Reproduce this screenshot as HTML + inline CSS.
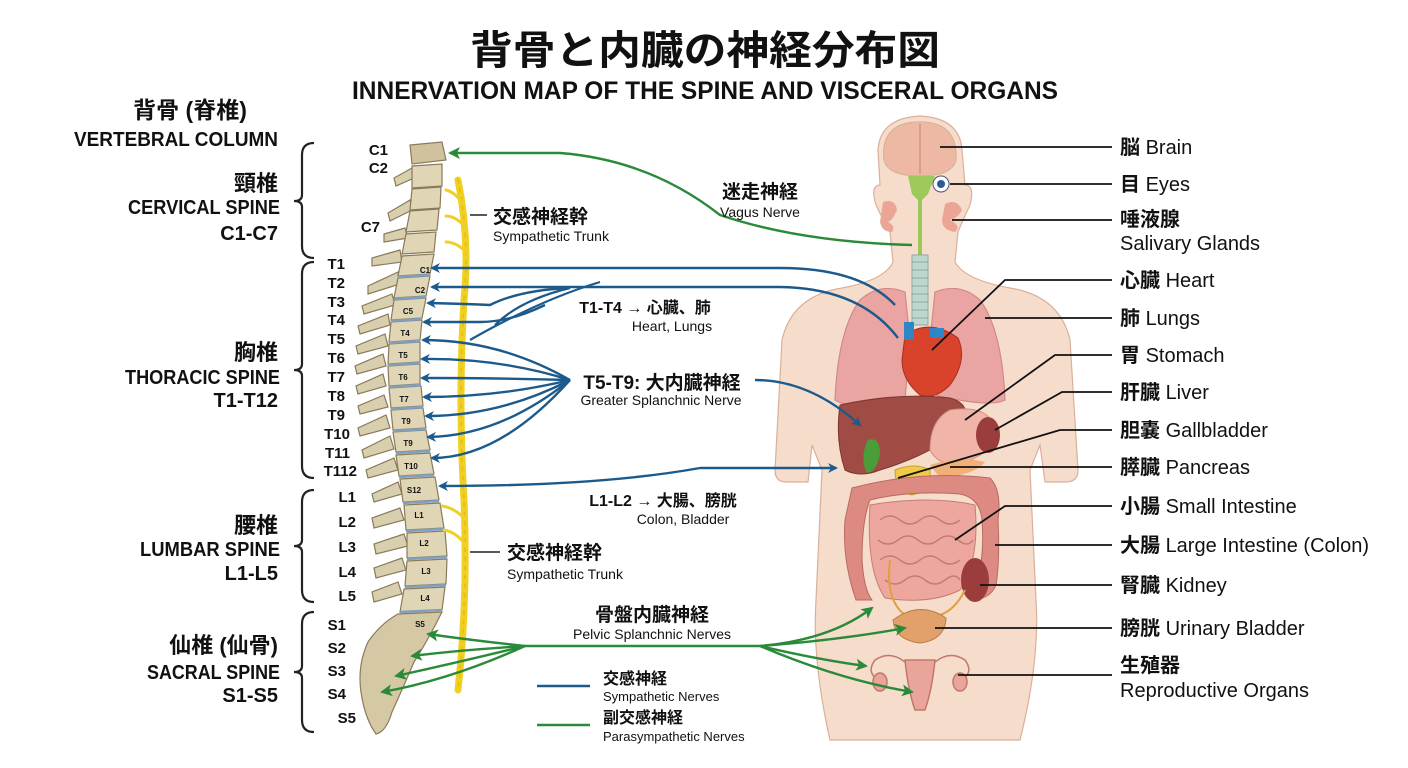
<!DOCTYPE html>
<html><head><meta charset="utf-8"><style>
html,body{margin:0;padding:0;background:#fff;}
svg{display:block;}
text{font-family:"Liberation Sans","Noto Sans CJK JP",sans-serif;font-weight:bold;fill:#111;}
.s{font-weight:normal;}
</style></head><body>
<svg width="1408" height="768" viewBox="0 0 1408 768" xmlns="http://www.w3.org/2000/svg">
<defs>
<marker id="ab" markerWidth="10" markerHeight="10" refX="8" refY="5" orient="auto" markerUnits="userSpaceOnUse"><path d="M0,0 L10,5 L0,10 L3,5 Z" fill="#1d5a8c"/></marker>
<marker id="ag" markerWidth="12" markerHeight="12" refX="10" refY="6" orient="auto" markerUnits="userSpaceOnUse"><path d="M0,0 L12,6 L0,12 L3,6 Z" fill="#2a8a3a"/></marker>
</defs>

<text x="705" y="64" font-size="40" text-anchor="middle" textLength="470" lengthAdjust="spacingAndGlyphs">背骨と内臓の神経分布図</text>
<text x="705" y="99" font-size="25" text-anchor="middle" textLength="706" lengthAdjust="spacingAndGlyphs">INNERVATION MAP OF THE SPINE AND VISCERAL ORGANS</text>

<text x="190" y="118" font-size="23" text-anchor="middle">背骨 (脊椎)</text>
<text x="176" y="146" font-size="20" text-anchor="middle" textLength="204" lengthAdjust="spacingAndGlyphs">VERTEBRAL COLUMN</text>
<g font-size="20" text-anchor="end">
<text x="278" y="191" font-size="22">頸椎</text>
<text x="280" y="214" textLength="152" lengthAdjust="spacingAndGlyphs">CERVICAL SPINE</text>
<text x="278" y="240">C1-C7</text>
<text x="278" y="360" font-size="22">胸椎</text>
<text x="280" y="384" textLength="155" lengthAdjust="spacingAndGlyphs">THORACIC SPINE</text>
<text x="278" y="407">T1-T12</text>
<text x="278" y="533" font-size="22">腰椎</text>
<text x="280" y="556" textLength="140" lengthAdjust="spacingAndGlyphs">LUMBAR SPINE</text>
<text x="278" y="580">L1-L5</text>
<text x="278" y="653" font-size="22">仙椎 (仙骨)</text>
<text x="280" y="679" textLength="133" lengthAdjust="spacingAndGlyphs">SACRAL SPINE</text>
<text x="278" y="702">S1-S5</text>
</g>
<g fill="none" stroke="#222" stroke-width="2.2">
<path d="M314,143 Q302,143 302,155 L302,195 Q302,201 294,201 Q302,201 302,207 L302,246 Q302,258 314,258"/>
<path d="M314,262 Q302,262 302,274 L302,364 Q302,370 294,370 Q302,370 302,376 L302,466 Q302,478 314,478"/>
<path d="M314,490 Q302,490 302,502 L302,540 Q302,546 294,546 Q302,546 302,552 L302,590 Q302,602 314,602"/>
<path d="M314,612 Q302,612 302,624 L302,666 Q302,672 294,672 Q302,672 302,678 L302,720 Q302,732 314,732"/>
</g>
<g font-size="15" text-anchor="end">
<text x="388" y="155">C1</text><text x="388" y="173">C2</text><text x="380" y="232">C7</text>
<text x="345" y="269">T1</text><text x="345" y="288">T2</text><text x="345" y="307">T3</text><text x="345" y="325">T4</text>
<text x="345" y="344">T5</text><text x="345" y="363">T6</text><text x="345" y="382">T7</text><text x="345" y="401">T8</text>
<text x="345" y="420">T9</text><text x="350" y="439">T10</text><text x="350" y="458">T11</text><text x="357" y="476">T112</text>
<text x="356" y="502">L1</text><text x="356" y="527">L2</text><text x="356" y="552">L3</text><text x="356" y="577">L4</text><text x="356" y="601">L5</text>
<text x="346" y="630">S1</text><text x="346" y="653">S2</text><text x="346" y="676">S3</text><text x="346" y="699">S4</text><text x="356" y="723">S5</text>
</g>

<g stroke="#8a7a5a" stroke-width="1.2">
<g fill="#d8cfae">
<path d="M412,168 L394,178 L396,186 L414,178 Z"/>
<path d="M410,200 L388,213 L390,221 L412,210 Z"/>
<path d="M405,228 L384,234 L384,242 L408,238 Z"/>
<path d="M400,250 L372,258 L372,266 L402,262 Z"/>
<path d="M398,272 L368,286 L368,294 L400,284 Z"/>
<path d="M392,294 L362,306 L364,314 L395,305 Z"/>
<path d="M388,314 L358,326 L360,334 L390,325 Z"/>
<path d="M385,334 L356,346 L358,354 L388,346 Z"/>
<path d="M383,354 L355,366 L357,374 L386,366 Z"/>
<path d="M383,374 L356,386 L358,394 L386,386 Z"/>
<path d="M384,395 L358,406 L360,414 L388,407 Z"/>
<path d="M386,415 L358,428 L360,436 L390,428 Z"/>
<path d="M390,436 L362,450 L364,458 L394,449 Z"/>
<path d="M394,458 L366,470 L368,478 L398,470 Z"/>
<path d="M398,482 L372,494 L374,502 L402,494 Z"/>
<path d="M400,508 L372,518 L374,528 L404,520 Z"/>
<path d="M404,534 L374,544 L376,554 L408,546 Z"/>
<path d="M402,558 L374,568 L376,578 L406,570 Z"/>
<path d="M398,582 L372,592 L374,602 L402,594 Z"/>
</g>
<g fill="#e0d6b6">
<path d="M410,145 L442,142 L446,160 L412,164 Z" fill="#cfc29c"/>
<path d="M412,166 L442,164 L442,186 L412,188 Z"/>
<path d="M412,189 L441,187 L440,208 L410,210 Z"/>
<path d="M410,211 L439,209 L437,230 L406,232 Z"/>
<path d="M406,234 L436,232 L434,252 L402,254 Z"/>
<path d="M402,256 L434,254 L430,274 L398,276 Z"/>
<path d="M398,278 L430,276 L426,296 L394,298 Z"/>
<path d="M394,300 L426,298 L422,318 L391,320 Z"/>
<path d="M391,322 L422,320 L420,340 L389,342 Z"/>
<path d="M389,344 L420,342 L420,362 L388,364 Z"/>
<path d="M388,366 L420,364 L420,384 L389,386 Z"/>
<path d="M389,388 L421,386 L423,406 L391,408 Z"/>
<path d="M391,410 L423,408 L426,428 L393,430 Z"/>
<path d="M393,432 L426,430 L430,450 L396,452 Z"/>
<path d="M396,455 L430,453 L434,474 L399,476 Z"/>
<path d="M400,479 L435,477 L439,500 L403,502 Z"/>
<path d="M404,505 L440,503 L444,528 L406,530 Z"/>
<path d="M407,533 L445,531 L447,556 L407,558 Z"/>
<path d="M407,561 L447,559 L446,584 L405,586 Z"/>
<path d="M404,589 L445,587 L442,610 L400,612 Z"/>
</g>
<g stroke="#7fa0bf" stroke-width="2.5" fill="none">
<path d="M398,277 L430,275"/><path d="M394,299 L426,297"/><path d="M391,321 L422,319"/><path d="M389,343 L420,341"/>
<path d="M388,365 L420,363"/><path d="M389,387 L421,385"/><path d="M391,409 L423,407"/><path d="M393,431 L426,429"/>
<path d="M396,453 L430,451"/><path d="M399,477 L434,475"/><path d="M403,503 L439,501"/><path d="M406,531 L444,529"/>
<path d="M407,559 L447,557"/><path d="M405,587 L446,585"/><path d="M400,612 L442,610"/>
</g>
<path d="M398,614 L442,612 Q428,640 414,662 Q402,690 392,712 Q386,732 376,734 Q366,720 362,698 Q356,668 368,642 Q380,624 398,614 Z" fill="#d5c9a5"/>
</g>
<g font-size="8" class="s" fill="#333" text-anchor="middle">
<text x="425" y="273">C1</text><text x="420" y="293">C2</text><text x="408" y="314">C5</text><text x="405" y="336">T4</text>
<text x="403" y="358">T5</text><text x="403" y="380">T6</text><text x="404" y="402">T7</text><text x="406" y="424">T9</text>
<text x="408" y="446">T9</text><text x="411" y="469">T10</text><text x="414" y="493">S12</text><text x="419" y="518">L1</text>
<text x="424" y="546">L2</text><text x="426" y="574">L3</text><text x="425" y="601">L4</text><text x="420" y="627">S5</text>
</g>

<g fill="none" stroke="#f1d024" stroke-linecap="round">
<path d="M458,180 Q470,240 464,300 Q458,400 464,500 Q468,600 458,690" stroke-width="7"/>
<path d="M458,180 Q470,240 464,300 Q458,400 464,500 Q468,600 458,690" stroke="#e8c010" stroke-width="2" stroke-dasharray="3 6"/>
<path d="M464,205 Q455,192 446,190 M466,228 Q456,216 446,216 M466,252 Q456,242 446,242 M466,520 Q455,508 442,506 M466,545 Q456,532 444,530" stroke-width="3"/>
</g>
<line x1="470" y1="215" x2="487" y2="215" stroke="#222" stroke-width="1.5"/>
<line x1="470" y1="552" x2="500" y2="552" stroke="#222" stroke-width="1.5"/>

<g stroke="#d9b09a" stroke-width="1.2">
<path d="M878,150 Q880,118 920,116 Q960,118 962,150 L965,185 Q975,185 970,205 Q962,222 958,232 L955,262 Q965,280 1010,288 Q1060,296 1070,340 L1078,470 Q1078,482 1066,482 L1045,482 L1040,445 L1030,470 L1036,600 Q1040,660 1020,740 L830,740 Q812,660 816,600 L822,470 L812,445 L808,482 L786,482 Q775,482 775,470 L782,340 Q792,296 842,288 Q885,280 893,262 L890,232 Q884,222 876,205 Q870,185 880,185 Z" fill="#f6dccb"/>
<path d="M884,160 Q880,122 920,122 Q958,122 956,160 Q952,176 920,176 Q888,176 884,160 Z" fill="#eeb9a4"/>
<path d="M920,124 L920,174" stroke="#c98d78"/>
</g>
<path d="M908,176 L935,176 L928,194 L922,200 L922,260 L918,260 L918,200 L912,194 Z" fill="#9dc95a"/>
<circle cx="941" cy="184" r="8" fill="#fff" stroke="#557" stroke-width="1"/>
<circle cx="941" cy="184" r="4" fill="#2f5a9a"/>
<g fill="#eba597">
<path d="M883,202 Q895,198 897,210 Q893,220 888,222 Q896,226 892,232 Q882,232 880,222 Z"/>
<path d="M945,204 Q957,198 962,210 Q958,218 950,220 Q962,226 955,232 Q942,230 942,220 Z"/>
</g>
<rect x="912" y="255" width="16" height="70" fill="#bfd6cc" stroke="#8aa" stroke-width="1"/>
<g stroke="#8aa" stroke-width="1"><path d="M912,262 h16 M912,270 h16 M912,278 h16 M912,286 h16 M912,294 h16 M912,302 h16 M912,310 h16 M912,318 h16"/></g>
<g fill="#eaa5a2" stroke="#d08a88" stroke-width="1.2">
<path d="M905,292 Q880,282 860,300 Q838,330 835,400 Q850,410 905,400 L910,340 Z"/>
<path d="M935,292 Q960,282 980,300 Q1002,330 1005,400 Q990,408 935,395 L930,340 Z"/>
</g>
<path d="M905,335 Q930,318 958,338 Q968,360 950,385 Q935,400 920,395 Q902,380 902,360 Z" fill="#d9432c" stroke="#a5301e"/>
<rect x="904" y="322" width="10" height="18" fill="#2f86c6"/>
<rect x="930" y="328" width="14" height="10" fill="#2f86c6"/>
<path d="M840,405 Q900,392 950,398 Q975,405 960,430 Q930,455 880,470 Q860,478 845,470 Q835,440 840,405 Z" fill="#a04c45" stroke="#7d3530"/>
<path d="M868,440 Q880,436 880,455 Q875,475 866,472 Q860,455 868,440 Z" fill="#4a9e3a"/>
<path d="M950,410 Q990,404 995,430 Q995,450 970,460 Q940,470 930,450 Q930,420 950,410 Z" fill="#f0b5a8" stroke="#d48f84"/>
<ellipse cx="988" cy="435" rx="12" ry="18" fill="#9c3d3d"/>
<path d="M930,465 Q960,455 985,462 Q975,475 940,478 Z" fill="#f2b078"/>
<path d="M895,470 Q915,462 930,470 Q932,490 912,495 Q895,492 895,470 Z" fill="#f1cb48" stroke="#c8a030"/>
<path d="M852,488 Q920,470 990,478 Q1002,490 998,520 Q1000,560 996,585 Q990,600 970,600 L975,585 Q985,560 982,520 Q980,498 960,494 Q910,490 870,500 Q862,520 862,560 Q864,590 872,600 L856,600 Q842,560 845,520 Z" fill="#dd8b82" stroke="#b86a62"/>
<path d="M870,505 Q930,495 975,505 Q980,560 960,590 Q930,605 885,598 Q866,570 870,505 Z" fill="#eea79e" stroke="#c57c74"/>
<g fill="none" stroke="#c57c74" stroke-width="1.5">
<path d="M880,520 q10,-8 20,0 t20,0 t20,0 t20,0"/><path d="M878,540 q10,8 20,0 t20,0 t20,0 t20,0 t15,0"/>
<path d="M880,560 q10,-8 20,0 t20,0 t20,0 t20,0"/><path d="M885,580 q10,8 20,0 t20,0 t20,0 t15,0"/>
</g>
<ellipse cx="975" cy="580" rx="14" ry="22" fill="#9c3d3d"/>
<path d="M890,560 Q885,600 905,615 M965,590 Q955,610 940,615" stroke="#e0a040" stroke-width="2" fill="none"/>
<path d="M893,620 Q920,600 946,618 Q945,640 920,643 Q895,640 893,620 Z" fill="#e2a06a" stroke="#b87d48"/>
<g fill="#eaa59b" stroke="#c0786e" stroke-width="1.5">
<path d="M905,660 L935,660 Q932,690 925,710 L915,710 Q908,690 905,660 Z"/>
<path d="M905,662 Q890,650 875,660 Q866,672 878,680 M935,662 Q950,650 965,660 Q974,672 962,680" fill="none"/>
<ellipse cx="880" cy="682" rx="7" ry="9"/><ellipse cx="960" cy="682" rx="7" ry="9"/>
</g>

<g fill="none" stroke="#1d5a8c" stroke-width="2.4" marker-end="url(#ab)">
<path d="M895,305 Q860,268 780,268 L432,268"/>
<path d="M898,338 Q860,288 780,287 L432,287"/>
<path d="M570,288 Q520,290 490,305 Q470,304 428,303"/>
<path d="M545,305 Q510,322 480,322 L424,322"/>
<path d="M570,380 Q500,340 423,340"/>
<path d="M570,380 Q500,358 422,359"/>
<path d="M570,380 Q500,378 422,378"/>
<path d="M570,380 Q500,397 424,397"/>
<path d="M570,380 Q500,416 426,416"/>
<path d="M570,380 Q500,436 428,437"/>
<path d="M570,380 Q500,458 432,458"/>
<path d="M755,380 Q810,380 860,425"/>
<path d="M700,468 L836,468"/>
<path d="M700,468 Q600,486 440,486"/>
</g>
<path d="M570,288 Q520,300 495,325 M600,282 Q540,300 470,340" fill="none" stroke="#1d5a8c" stroke-width="2.2"/>

<g fill="none" stroke="#2a8a3a" stroke-width="2.4" marker-end="url(#ag)">
<path d="M912,245 Q800,242 720,215 Q650,160 560,153 L450,153"/>
<path d="M525,646 Q470,640 428,634"/>
<path d="M525,646 Q460,650 412,656"/>
<path d="M525,646 Q460,662 396,676"/>
<path d="M525,646 Q450,680 382,692"/>
<path d="M760,646 Q830,640 872,608"/>
<path d="M760,646 Q840,640 905,628"/>
<path d="M760,646 Q820,660 866,666"/>
<path d="M760,646 Q840,680 912,692"/>
</g>
<line x1="525" y1="646" x2="760" y2="646" stroke="#2a8a3a" stroke-width="2.4"/>

<text x="760" y="198" font-size="19" text-anchor="middle">迷走神経</text>
<text x="760" y="217" font-size="14" text-anchor="middle" class="s">Vagus Nerve</text>
<text x="493" y="223" font-size="19">交感神経幹</text>
<text x="493" y="241" font-size="14" class="s">Sympathetic Trunk</text>
<text x="645" y="313" font-size="16" text-anchor="middle">T1-T4 → 心臓、肺</text>
<text x="672" y="331" font-size="14" text-anchor="middle" class="s">Heart, Lungs</text>
<text x="662" y="389" font-size="19" text-anchor="middle">T5-T9: 大内臓神経</text>
<text x="661" y="405" font-size="14" text-anchor="middle" class="s">Greater Splanchnic Nerve</text>
<text x="663" y="506" font-size="16" text-anchor="middle">L1-L2 → 大腸、膀胱</text>
<text x="683" y="524" font-size="14" text-anchor="middle" class="s">Colon, Bladder</text>
<text x="507" y="559" font-size="19">交感神経幹</text>
<text x="507" y="579" font-size="14" class="s">Sympathetic Trunk</text>
<text x="652" y="621" font-size="19" text-anchor="middle">骨盤内臓神経</text>
<text x="652" y="639" font-size="14" text-anchor="middle" class="s">Pelvic Splanchnic Nerves</text>
<line x1="537" y1="686" x2="590" y2="686" stroke="#1d5a8c" stroke-width="2.5"/>
<line x1="537" y1="725" x2="590" y2="725" stroke="#2a8a3a" stroke-width="2.5"/>
<text x="603" y="684" font-size="16">交感神経</text>
<text x="603" y="701" font-size="13" class="s">Sympathetic Nerves</text>
<text x="603" y="723" font-size="16">副交感神経</text>
<text x="603" y="741" font-size="13" class="s">Parasympathetic Nerves</text>

<g fill="none" stroke="#111" stroke-width="1.8">
<path d="M940,147 L1112,147"/>
<path d="M950,184 L1112,184"/>
<path d="M952,220 L1112,220"/>
<path d="M932,350 L1005,280 L1112,280"/>
<path d="M985,318 L1112,318"/>
<path d="M965,420 L1055,355 L1112,355"/>
<path d="M995,430 L1062,392 L1112,392"/>
<path d="M898,478 L1060,430 L1112,430"/>
<path d="M950,467 L1112,467"/>
<path d="M955,540 L1005,506 L1112,506"/>
<path d="M995,545 L1112,545"/>
<path d="M980,585 L1112,585"/>
<path d="M935,628 L1112,628"/>
<path d="M958,675 L1112,675"/>
</g>
<g font-size="20">
<text x="1120" y="154">脳 <tspan style="font-weight:normal">Brain</tspan></text>
<text x="1120" y="191">目 <tspan style="font-weight:normal">Eyes</tspan></text>
<text x="1120" y="226">唾液腺</text>
<text x="1120" y="250" style="font-weight:normal">Salivary Glands</text>
<text x="1120" y="287">心臓 <tspan style="font-weight:normal">Heart</tspan></text>
<text x="1120" y="325">肺 <tspan style="font-weight:normal">Lungs</tspan></text>
<text x="1120" y="362">胃 <tspan style="font-weight:normal">Stomach</tspan></text>
<text x="1120" y="399">肝臓 <tspan style="font-weight:normal">Liver</tspan></text>
<text x="1120" y="437">胆嚢 <tspan style="font-weight:normal">Gallbladder</tspan></text>
<text x="1120" y="474">膵臓 <tspan style="font-weight:normal">Pancreas</tspan></text>
<text x="1120" y="513">小腸 <tspan style="font-weight:normal">Small Intestine</tspan></text>
<text x="1120" y="552">大腸 <tspan style="font-weight:normal">Large Intestine (Colon)</tspan></text>
<text x="1120" y="592">腎臓 <tspan style="font-weight:normal">Kidney</tspan></text>
<text x="1120" y="635">膀胱 <tspan style="font-weight:normal">Urinary Bladder</tspan></text>
<text x="1120" y="672">生殖器</text>
<text x="1120" y="697" style="font-weight:normal">Reproductive Organs</text>
</g>
</svg>
</body></html>
